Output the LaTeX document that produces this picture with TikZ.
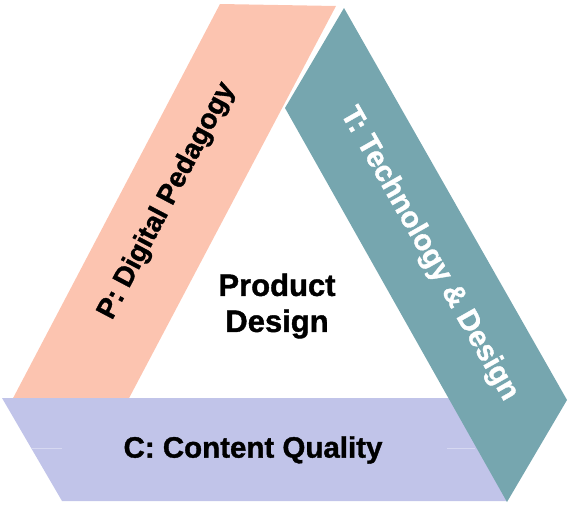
\documentclass[tikz,border=0pt]{standalone}
\usepackage{fontspec}
\setmainfont{Liberation Sans}[BoldFeatures={FakeBold=1.2}]
\definecolor{pinkband}{RGB}{252,196,176}
\definecolor{tealband}{RGB}{118,166,175}
\definecolor{lavband}{RGB}{193,196,233}
\definecolor{lavline}{RGB}{214,216,241}
\begin{document}
\begin{tikzpicture}[x=1pt,y=-1pt,
  bandlabel/.style={font=\bfseries\fontsize{28}{32}\selectfont, inner sep=0pt},
  centerlabel/.style={font=\bfseries\fontsize{31}{36}\selectfont, align=center, inner sep=0pt}]
\useasboundingbox (0,0) rectangle (568,504);
% pink band (P)
\fill[pinkband] (220,4) -- (336,6) -- (127,402) -- (11,402) -- cycle;
% lavender band (C)
\fill[lavband] (2,398) -- (452,398) -- (507,501) -- (62,501) -- cycle;
\draw[lavline, line width=0.8pt] (31,448) -- (62,448);
\draw[lavline, line width=0.8pt] (447,448) -- (475,448);
% teal band (T)
\fill[tealband] (344,8) -- (567,400) -- (507,502) -- (285,108) -- cycle;
% labels
\node[bandlabel, rotate=62.2] (p) at (167,201) {P: Digital Pedagogy};
\node[bandlabel, rotate=-60.4, text=white, font=\bfseries\fontsize{29.5}{34}\selectfont] (t) at (429,254) {T: Technology \& Design};
\node[bandlabel, font=\bfseries\fontsize{29.5}{34}\selectfont] (c) at (253,450) {C: Content Quality};
\node[centerlabel] (pd) at (277,306) {Product\\Design};
\end{tikzpicture}
\end{document}
